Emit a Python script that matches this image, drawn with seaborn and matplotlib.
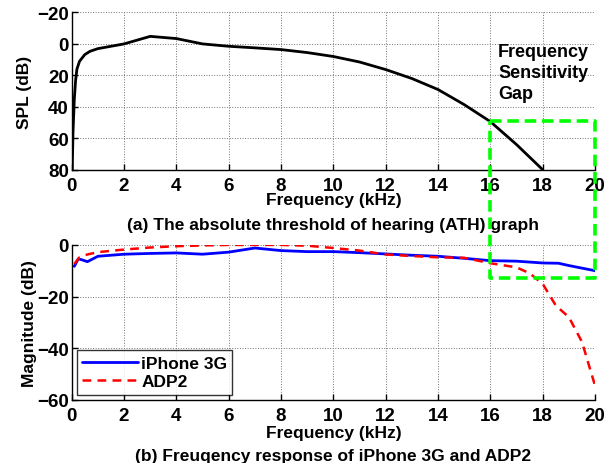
import numpy as np
import pandas as pd
import matplotlib
matplotlib.use('Agg')
import matplotlib.pyplot as plt
import seaborn as sns
from matplotlib.lines import Line2D

# ATH curve (kHz, dB SPL)
ath_freq = [0.02, 0.05, 0.1, 0.15, 0.2, 0.3, 0.5, 0.7, 1, 2, 3, 4, 5, 6, 7, 8,
            9, 10, 11, 12, 13, 14, 15, 16, 17, 18]
ath_spl = [80, 56, 35, 23, 16, 11, 6.8, 4.7, 3, 0, -4.8, -3.4, 0, 1.5, 2.5, 3.6,
           5.5, 8, 11.5, 16.3, 22, 29, 38.6, 49.4, 64, 80]

# frequency response (kHz, dB)
iphone_freq = [0.1, 0.25, 0.4, 0.6, 1, 2, 3, 4, 5, 6, 7, 8, 9, 10, 11, 12, 13,
               14, 15, 16, 17, 18, 18.6, 19, 20]
iphone_mag = [-8.3, -5.4, -5.8, -6.5, -4.4, -3.6, -3.3, -3.1, -3.6, -2.8, -1.2,
              -2.2, -2.6, -2.6, -3.0, -3.5, -4.0, -4.4, -5.2, -6.1, -6.3, -7.0,
              -7.1, -8.0, -10.0]
adp2_freq = [0.1, 0.3, 0.6, 1, 2, 3, 4, 5, 6, 7, 8, 9, 10, 11, 12, 13, 14, 15,
             16, 17, 17.5, 18, 18.5, 19, 19.5, 20]
adp2_mag = [-7.4, -4.8, -3.7, -2.8, -1.8, -1.0, -0.5, -0.2, 0, 0, 0, -0.3,
            -1.2, -2.2, -3.7, -4.3, -4.8, -5.0, -7.1, -8.7, -11, -15.1, -23.5,
            -28, -37.6, -54.6]

x_ticks = [0, 2, 4, 6, 8, 10, 12, 14, 16, 18, 20]
spl_ticks = [-20, 0, 20, 40, 60, 80]
mag_ticks = [-60, -40, -20, 0]

# green box: x range and y limits in the two axes
gap_x = [16, 20]
gap_top_spl = 49
gap_bottom_mag = -13

sns.set_style('ticks')
plt.rcParams['font.family'] = ['Liberation Sans', 'DejaVu Sans']
plt.rcParams['font.weight'] = 'bold'
plt.rcParams['axes.labelweight'] = 'bold'
plt.rcParams['axes.unicode_minus'] = True
plt.rcParams['text.color'] = 'black'
plt.rcParams['axes.labelcolor'] = 'black'
plt.rcParams['xtick.color'] = 'black'
plt.rcParams['ytick.color'] = 'black'
plt.rcParams['axes.edgecolor'] = 'black'

fig = plt.figure(figsize=(6.16, 4.64), dpi=100)
ax1 = fig.add_axes([0.1164, 0.632, 0.8496, 0.339])
ax2 = fig.add_axes([0.1164, 0.1364, 0.8496, 0.3336])

df_ath = pd.DataFrame({'freq': ath_freq, 'spl': ath_spl})
sns.lineplot(data=df_ath, x='freq', y='spl', ax=ax1, color='black', lw=2)

df_ip = pd.DataFrame({'freq': iphone_freq, 'mag': iphone_mag})
df_adp = pd.DataFrame({'freq': adp2_freq, 'mag': adp2_mag})
sns.lineplot(data=df_ip, x='freq', y='mag', ax=ax2, color='#0000ff', lw=2,
             label='iPhone 3G')
sns.lineplot(data=df_adp, x='freq', y='mag', ax=ax2, color='#ff0000', lw=1.8,
             linestyle=(0, (3.5, 2.5)), label='ADP2')

for ax in (ax1, ax2):
    ax.set_xlim(0, 20)
    ax.set_xticks(x_ticks)
    ax.grid(True, linestyle=':', color='0.45', lw=0.7)
    for s in ('top', 'right'):
        ax.spines[s].set_visible(False)
    ax.spines['left'].set_linewidth(1.0)
    ax.spines['bottom'].set_linewidth(1.0)
    ax.tick_params(direction='in', length=4, width=1, labelsize=13.5, colors='black')
    ax.tick_params(axis='x', pad=5)
    ax.tick_params(axis='y', pad=2)

ax1.set_xlabel('Frequency (kHz)', fontsize=12.5, fontweight='bold', labelpad=-1)
ax2.set_xlabel('Frequency (kHz)', fontsize=12.5, fontweight='bold', labelpad=1)

ax1.set_ylim(80, -20)
ax1.set_yticks(spl_ticks)
ax1.set_ylabel('SPL (dB)', fontsize=12.5, fontweight='bold', labelpad=4)
ax2.set_ylim(-60, 0)
ax2.set_yticks(mag_ticks)
ax2.set_ylabel('Magnitude (dB)', fontsize=12.5, fontweight='bold', labelpad=0)

ax1.text(16.3, -0.5, 'Frequency\nSensitivity\nGap', fontsize=13,
         fontweight='bold', va='top', ha='left', linespacing=1.3)

fig.text(0.54, 0.515, '(a) The absolute threshold of hearing (ATH) graph',
         ha='center', va='center', fontsize=12.5, fontweight='bold')
fig.text(0.54, 0.016, '(b) Freuqency response of iPhone 3G and ADP2',
         ha='center', va='center', fontsize=12.5, fontweight='bold')

leg = ax2.legend(loc='lower left', fontsize=12.5, frameon=True, fancybox=False,
                 edgecolor='black', handlelength=3.2, borderpad=0.3,
                 labelspacing=0.2, handletextpad=0.2, borderaxespad=0.3)
leg.get_frame().set_linewidth(1.0)
for t in leg.get_texts():
    t.set_fontweight('bold')

# green dashed box spanning both axes
fig.canvas.draw()
inv = fig.transFigure.inverted()
p_tl = inv.transform(ax1.transData.transform((gap_x[0], gap_top_spl)))
p_tr = inv.transform(ax1.transData.transform((gap_x[1], gap_top_spl)))
p_br = inv.transform(ax2.transData.transform((gap_x[1], gap_bottom_mag)))
p_bl = inv.transform(ax2.transData.transform((gap_x[0], gap_bottom_mag)))
xs = [p_tl[0], p_tr[0], p_br[0], p_bl[0], p_tl[0]]
ys = [p_tl[1], p_tr[1], p_br[1], p_bl[1], p_tl[1]]
fig.add_artist(Line2D(xs, ys, transform=fig.transFigure, color='#00ff00',
                      lw=2.6, linestyle=(0, (3.2, 1.6)), zorder=20))

fig.savefig('out.png', dpi=100)
